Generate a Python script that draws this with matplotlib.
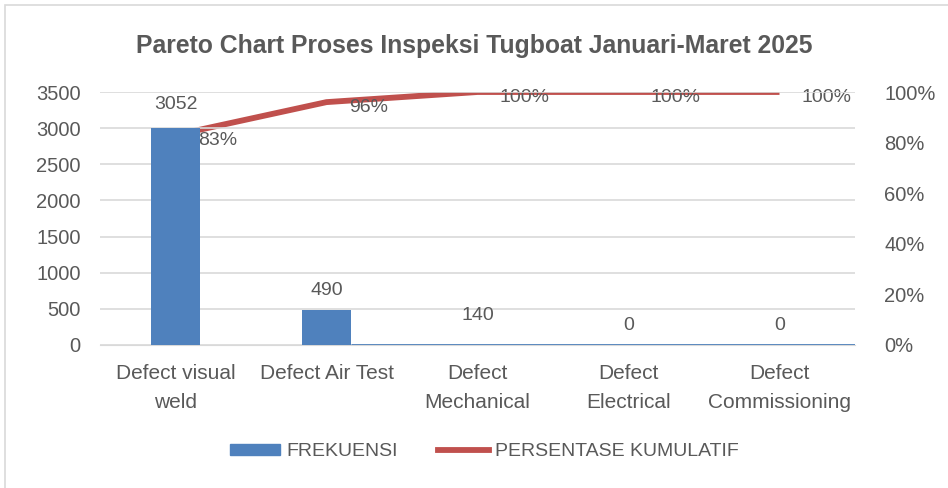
import matplotlib.pyplot as plt
from matplotlib.patches import Rectangle

plt.rcParams["font.family"] = ["Liberation Sans", "DejaVu Sans"]

categories = ["Defect visual\nweld", "Defect Air Test", "Defect\nMechanical",
              "Defect\nElectrical", "Defect\nCommissioning"]
frekuensi = [3052, 490, 140, 0, 0]          # data labels
bar_heights = [3000, 490, 0, 0, 0]          # bar heights as drawn
kumulatif = [0.83, 0.96, 1.00, 1.00, 1.00]  # cumulative share

BLUE = "#4F81BD"
RED = "#C0504D"
GREY = "#595959"
GRID = "#D9D9D9"

W, H = 948, 488
fig = plt.figure(figsize=(W / 100, H / 100), dpi=100)
fig.patches.append(Rectangle((5 / W, -0.1), 1.2, 1 - 5 / H + 0.1,
                             transform=fig.transFigure, fill=False,
                             edgecolor=GRID, linewidth=1.2))

ax = fig.add_axes([100 / W, (H - 345) / H, 755 / W, 253 / H])
ax2 = ax.twinx()
ax.set_zorder(ax2.get_zorder() + 1)
ax.patch.set_visible(False)

x = list(range(len(categories)))
bw = 0.32

ax.set_axisbelow(True)
ax.grid(axis="y", color=GRID, linewidth=1.2)
ax.bar(x, bar_heights, width=bw, color=BLUE, zorder=3)
# flat baseline segment after the second bar
ax.plot([x[1] + bw / 2, x[-1] + 0.5], [0, 0], color=BLUE, lw=2, zorder=3,
        solid_capstyle="butt")

for i, v in enumerate(frekuensi):
    ax.annotate(str(v), (x[i], v), xytext=(0, 14), textcoords="offset points",
                ha="center", va="center", fontsize=14, color=GREY)

ax2.plot(x, kumulatif, color=RED, lw=4.2, solid_capstyle="butt")
for i, p in enumerate(kumulatif):
    ax2.annotate(f"{p:.0%}", (x[i], p), xytext=(16, -4),
                 textcoords="offset points", ha="left", va="center",
                 fontsize=14, color=GREY)

ax.set_xlim(-0.5, len(categories) - 0.5)
ax.set_ylim(0, 3500)
ax.set_yticks(range(0, 3501, 500))
ax2.set_ylim(0, 1)
ax2.set_yticks([0, 0.2, 0.4, 0.6, 0.8, 1.0])
ax2.set_yticklabels([f"{t:.0%}" for t in ax2.get_yticks()])

ax.set_xticks(x)
ax.set_xticklabels(categories, fontsize=15, color=GREY, linespacing=1.65)
ax.tick_params(axis="x", length=0, pad=14)
ax.tick_params(axis="y", length=0, pad=14, labelsize=14.5, labelcolor=GREY)
ax2.tick_params(axis="y", length=0, pad=21, labelsize=14.5, labelcolor=GREY)

for a in (ax, ax2):
    for s in a.spines.values():
        s.set_visible(False)
ax.spines["bottom"].set_visible(True)
ax.spines["bottom"].set_color(GRID)

fig.text(0.5, (H - 46) / H, "Pareto Chart Proses Inspeksi Tugboat Januari-Maret 2025",
         ha="center", va="center", fontsize=17.8, fontweight="bold", color=GREY)

h1 = Rectangle((0, 0), 1, 1, color=BLUE)
h2, = ax.plot([], [], color=RED, lw=4.2)
fig.legend([h1, h2], ["FREKUENSI", "PERSENTASE KUMULATIF"], loc="center",
           bbox_to_anchor=(0.5 + 10 / W, (H - 452) / H), ncol=2, frameon=False,
           fontsize=14, labelcolor=GREY, handlelength=2.6, handleheight=0.5,
           handletextpad=0.3, columnspacing=2.1)

fig.savefig("out.png", dpi=100)
